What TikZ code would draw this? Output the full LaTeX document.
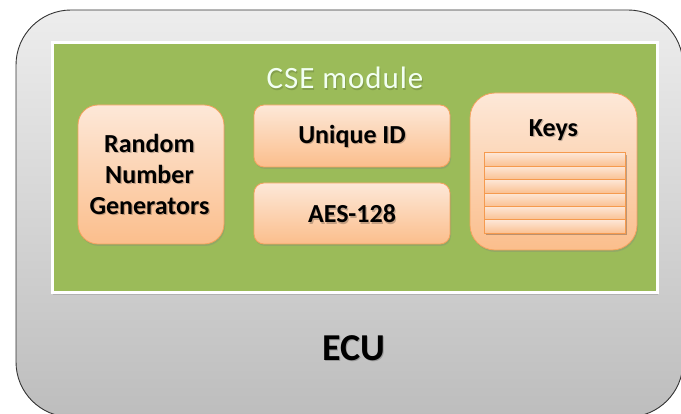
\documentclass[tikz,border=0pt]{standalone}
\usepackage{fontspec}
\setmainfont{Carlito}
\usetikzlibrary{shadows}
\definecolor{ecuTop}{HTML}{EDEDED}
\definecolor{ecuBot}{HTML}{BDBDBD}
\definecolor{cseGreen}{HTML}{9BBB59}
\definecolor{peachTop}{HTML}{FDE8D8}
\definecolor{peachBot}{HTML}{FBBE8C}
\definecolor{peachLine}{HTML}{F5A25E}
\definecolor{rowTop}{HTML}{FDE6D5}
\definecolor{rowBot}{HTML}{FAC091}
\definecolor{rowLine}{HTML}{F59A4E}
\tikzset{
  ecubox/.style={draw=black!80, line width=0.9pt, rounded corners=55pt,
    top color=ecuTop, bottom color=ecuBot, inner sep=0pt},
  csebox/.style={draw=white, line width=3pt, fill=cseGreen, inner sep=0pt,
    drop shadow={shadow xshift=1pt, shadow yshift=-2pt, opacity=0.35}},
  unit/.style={draw=peachLine, line width=0.8pt, top color=peachTop,
    bottom color=peachBot, inner sep=0pt, align=center,
    drop shadow={shadow xshift=1pt, shadow yshift=-2pt, opacity=0.3}},
  unitfont/.style={font=\fontsize{26}{31}\selectfont\bfseries},
  keyrow/.style={draw=rowLine, line width=1pt, top color=rowTop,
    bottom color=rowBot},
  % soft dark halo under the labels
  halo/.style={text=black, opacity=0.22, xshift=1.2pt, yshift=-1.2pt},
}
\begin{document}
\begin{tikzpicture}[x=1pt, y=-1pt]
\useasboundingbox (0,0) rectangle (681,414);
\begin{scope}
\clip (0,0) rectangle (681,414);
% outer controller
\node[ecubox, minimum width=667pt, minimum height=407pt] (ecu) at (349.5,213.5) {};
\end{scope}
\node[halo, font=\fontsize{38}{44}\selectfont\bfseries] at (354,348) {ECU};
\node[font=\fontsize{38}{44}\selectfont\bfseries] (ecutext) at (354,348) {ECU};
% security module
\node[csebox, minimum width=605pt, minimum height=250pt] (cse) at (354.5,168) {};
\node[text=black, opacity=0.15, xshift=1pt, yshift=-1.5pt,
  font=\fontsize{31}{36}\selectfont\addfontfeature{LetterSpace=3}] at (345,78) {CSE module};
\node[text=white!95!green, font=\fontsize{31}{36}\selectfont\addfontfeature{LetterSpace=3}]
  (csetext) at (345,78) {CSE module};
% functional units
\node[unit, rounded corners=20pt, minimum width=146pt, minimum height=139pt]
  (rng) at (151,174.5) {};
\node[unit, rounded corners=10pt, minimum width=196pt, minimum height=62pt]
  (uid) at (352,136) {};
\node[unit, rounded corners=10pt, minimum width=196pt, minimum height=61pt]
  (aes) at (352,213.5) {};
\node[unit, rounded corners=25pt, minimum width=167pt, minimum height=157pt]
  (keys) at (553.5,171.5) {};
% labels of the units
\foreach \p/\t in {{(149.5,174)}/{Random\\Number\\Generators}, {(352,136)}/{Unique ID},
                   {(352,214)}/{AES-128}, {(553.5,130)}/{Keys}}{
  \node[unitfont, align=center, halo] at \p {\t};
}
\node[unitfont, align=center] (rngtext) at (149.5,174) {Random\\Number\\Generators};
\node[unitfont] (uidtext) at (352,136) {Unique ID};
\node[unitfont] (aestext) at (352,214) {AES-128};
\node[unitfont] (keystext) at (553.5,130) {Keys};
% key slots
\fill[black, opacity=0.25] (486,155) rectangle (627,235.4);
\foreach \i in {0,...,5}{
  \path[keyrow] (484,{153+\i*13.4}) rectangle (625,{153+(\i+1)*13.4});
}
\end{tikzpicture}
\end{document}
